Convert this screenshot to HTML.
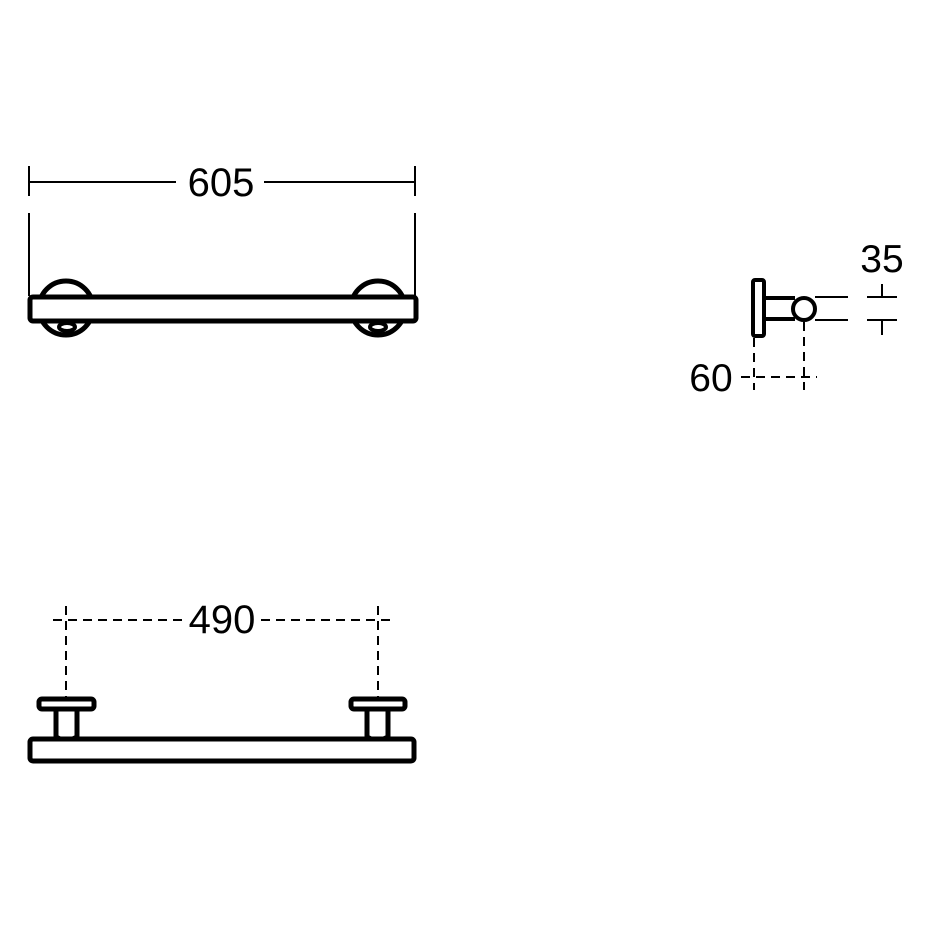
<!DOCTYPE html>
<html><head><meta charset="utf-8"><style>
html,body{margin:0;padding:0;background:#fff;}
svg{display:block;}
text{font-family:"Liberation Sans",sans-serif;fill:#000;}
</style></head><body>
<svg width="928" height="928" viewBox="0 0 928 928" xmlns="http://www.w3.org/2000/svg">
<g stroke="#000" stroke-width="2" fill="none">
<line x1="29" y1="182" x2="176" y2="182"/>
<line x1="264" y1="182" x2="415" y2="182"/>
<line x1="29" y1="166" x2="29" y2="196"/>
<line x1="415" y1="166" x2="415" y2="196"/>
<line x1="29" y1="213" x2="29" y2="296"/>
<line x1="415" y1="213" x2="415" y2="296"/>
</g>
<text x="221" y="196" font-size="40" text-anchor="middle">605</text>
<g stroke="#000" stroke-width="5" fill="#fff">
<circle cx="66" cy="308" r="27"/>
<circle cx="378" cy="308" r="27"/>
<rect x="30" y="297" width="386" height="24" rx="3"/>
</g>
<rect x="34" y="300" width="378" height="18" fill="#fff"/>
<g stroke="#000" stroke-width="4" fill="#fff">
<ellipse cx="67" cy="327" rx="8" ry="4"/>
<ellipse cx="378" cy="327" rx="8" ry="4"/>
</g>
<g stroke="#000" stroke-width="4" fill="#fff">
<rect x="753" y="280" width="11" height="56" rx="2"/>
<line x1="765" y1="298" x2="795" y2="298"/>
<line x1="765" y1="319" x2="795" y2="319"/>
<circle cx="804" cy="309" r="11"/>
</g>
<g stroke="#000" stroke-width="2" fill="none">
<line x1="815" y1="297" x2="848" y2="297"/>
<line x1="815" y1="320" x2="848" y2="320"/>
<line x1="867" y1="297" x2="897" y2="297"/>
<line x1="867" y1="320" x2="897" y2="320"/>
<line x1="882" y1="284" x2="882" y2="297"/>
<line x1="882" y1="320" x2="882" y2="335"/>
</g>
<g stroke="#000" stroke-width="2" fill="none" stroke-dasharray="9,6">
<line x1="754" y1="338" x2="754" y2="390"/>
<line x1="804" y1="322" x2="804" y2="390"/>
<line x1="741" y1="377" x2="817" y2="377"/>
</g>
<text x="882" y="272" font-size="39" text-anchor="middle">35</text>
<text x="711" y="391" font-size="39" text-anchor="middle">60</text>
<g stroke="#000" stroke-width="2" fill="none" stroke-dasharray="9,6">
<line x1="53" y1="620" x2="185" y2="620"/>
<line x1="261" y1="620" x2="390" y2="620"/>
<line x1="66" y1="606" x2="66" y2="697"/>
<line x1="378" y1="606" x2="378" y2="697"/>
</g>
<text x="222" y="633" font-size="40" text-anchor="middle">490</text>
<g stroke="#000" stroke-width="5" fill="#fff">
<path d="M56 709 L56 737 L66 742 L77 737 L77 709"/>
<path d="M367 709 L367 737 L377 742 L388 737 L388 709"/>
<rect x="30" y="739" width="384" height="22" rx="3"/>
<rect x="39" y="699" width="55" height="10" rx="3"/>
<rect x="351" y="699" width="54" height="10" rx="3"/>
</g>
</svg>
</body></html>
